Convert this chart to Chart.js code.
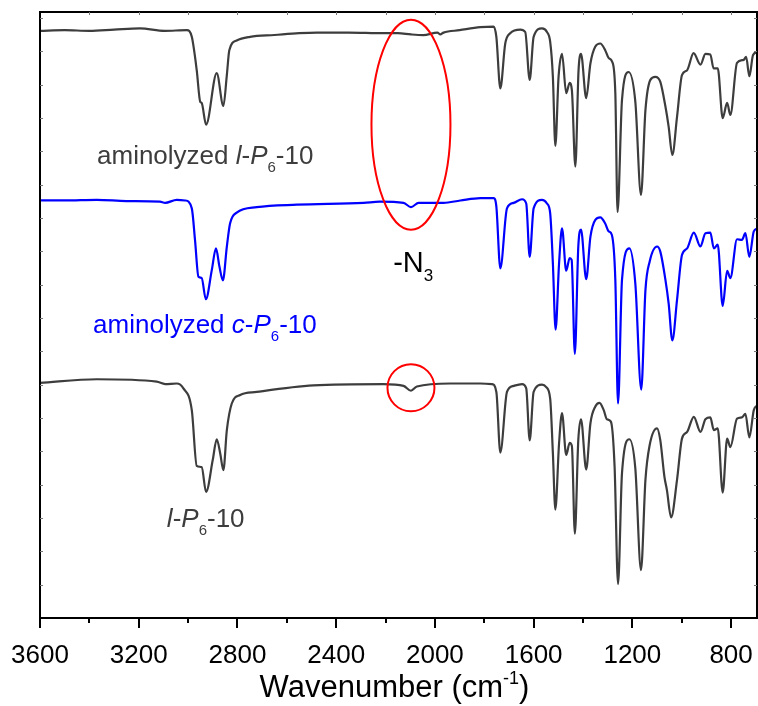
<!DOCTYPE html>
<html>
<head>
<meta charset="utf-8">
<script src="https://cdn.jsdelivr.net/npm/chart.js@4.4.1/dist/chart.umd.min.js"></script>
<style>
  html, body { margin: 0; padding: 0; background: #fff; }
  #wrap { width: 758px; height: 706px; }
</style>
</head>
<body>
<div id="wrap"><canvas id="chart" width="758" height="706"></canvas></div>
<script>
// x axis (wavenumber, reversed)
const xMax = 3600
const xMin = 695
const xTicks = [3600, 3200, 2800, 2400, 2000, 1600, 1200, 800]
const xMinorTicks = [3400, 3000, 2600, 2200, 1800, 1400, 1000]

// aminolyzed l-P6-10 (top, gray)
const topWn = [3600, 3500, 3400, 3300, 3195, 3095, 3005, 2985, 2965, 2951, 2945, 2927, 2884, 2857, 2843, 2833, 2803, 2749, 2650, 2550, 2478, 2350, 2209, 2150, 2097, 2047, 1990, 1978, 1965, 1900, 1816, 1762,
  1751, 1735, 1715, 1695, 1654, 1634, 1616, 1600, 1566, 1546, 1533, 1522, 1512, 1499, 1485, 1468, 1454, 1445, 1431, 1418, 1408, 1387, 1370, 1350, 1330, 1310, 1296, 1282, 1269, 1260, 1242, 1215, 1188, 1165, 1147, 1127, 1107, 1087, 1066, 1053, 1038, 1019, 999, 978, 952, 924, 904, 884, 871, 854, 834, 816, 803, 776, 749, 739, 726, 711, 693]
const topT = [96.9, 97.0, 96.9, 97.1, 97.3, 96.9, 97.0, 95.9, 90.4, 85.2, 85.0, 81.4, 89.9, 84.5, 89.6, 93.7, 95.3, 95.9, 96.2, 96.5, 96.6, 96.6, 96.5, 96.5, 96.3, 96.2, 96.6, 96.3, 96.6, 97.0, 97.5, 97.6,
  95.9, 87.4, 94.8, 96.5, 97.1, 96.7, 88.8, 95.9, 97.3, 96.7, 95.1, 89.3, 77.9, 89.3, 93.1, 86.6, 88.3, 87.1, 74.5, 90.4, 93.1, 85.8, 91.5, 94.3, 94.8, 93.7, 92.4, 91.8, 86.6, 67.0, 85.5, 90.1, 85.2, 69.8, 83.8, 88.8, 89.3, 88.5, 84.4, 81.1, 76.4, 82.7, 89.6, 90.4, 93.2, 91.3, 93.1, 93.0, 90.7, 90.7, 82.5, 85.0, 83.0, 91.6, 92.1, 92.6, 89.4, 92.9, 93.4]

// aminolyzed c-P6-10 (middle, blue)
const midWn = [3600, 3500, 3370, 3250, 3114, 3093, 3046, 3012, 2985, 2972, 2958, 2945, 2928, 2904, 2887, 2873, 2859, 2843, 2830, 2803, 2722, 2559, 2289, 2224, 2127, 2097, 2066, 1965, 1897, 1816, 1762,
  1751, 1735, 1708, 1681, 1647, 1630, 1616, 1600, 1566, 1546, 1533, 1522, 1511, 1497, 1485, 1468, 1454, 1446, 1433, 1419, 1408, 1387, 1370, 1350, 1330, 1310, 1296, 1283, 1269, 1258, 1242, 1212, 1188, 1164, 1147, 1130, 1100, 1087, 1066, 1053, 1038, 1019, 999, 978, 951, 924, 904, 884, 870, 854, 834, 816, 803, 776, 756, 742, 726, 708, 693]
const midT = [68.9, 68.9, 69.0, 68.8, 68.7, 68.5, 69.0, 68.9, 67.6, 62.4, 56.3, 56.1, 52.6, 57.4, 61.0, 58.0, 55.7, 61.3, 65.1, 66.9, 67.8, 68.2, 68.5, 68.7, 68.5, 67.8, 68.5, 68.5, 68.9, 69.3, 69.3,
  67.9, 57.7, 67.6, 68.5, 69.1, 68.4, 59.6, 67.6, 69.0, 68.4, 66.8, 58.5, 47.6, 58.5, 64.3, 57.3, 59.4, 59.1, 43.6, 61.3, 64.1, 55.9, 62.9, 65.7, 66.1, 65.1, 63.8, 63.2, 55.8, 35.4, 55.8, 61.0, 55.2, 37.7, 54.1, 58.8, 61.3, 60.5, 55.8, 51.9, 45.8, 52.5, 59.9, 61.0, 63.6, 61.3, 63.5, 63.6, 61.0, 61.6, 51.5, 57.3, 56.1, 62.5, 62.4, 63.5, 59.6, 63.8, 64.3]

// l-P6-10 (bottom, gray)
const botWn = [3600, 3370, 3127, 3093, 3046, 3019, 2985, 2965, 2945, 2927, 2900, 2884, 2870, 2857, 2843, 2823, 2789, 2722, 2492, 2208, 2127, 2097, 2073, 1938, 1816, 1769,
  1751, 1735, 1708, 1681, 1647, 1630, 1616, 1600, 1566, 1549, 1533, 1522, 1512, 1497, 1485, 1468, 1454, 1445, 1433, 1419, 1408, 1387, 1370, 1350, 1333, 1316, 1303, 1287, 1272, 1258, 1242, 1212, 1188, 1165, 1147, 1130, 1100, 1087, 1070, 1060, 1043, 1019, 999, 978, 951, 924, 904, 884, 870, 854, 834, 816, 803, 776, 756, 742, 726, 708, 693]
const botT = [38.8, 39.4, 39.0, 38.6, 38.7, 37.9, 34.3, 25.1, 24.9, 20.8, 26.1, 29.5, 27.2, 24.4, 31.0, 35.4, 36.8, 37.3, 38.4, 38.6, 38.3, 37.5, 38.2, 38.7, 38.7, 38.6,
  37.3, 27.3, 37.3, 38.3, 38.6, 37.9, 29.3, 37.3, 38.5, 38.1, 36.2, 27.2, 17.9, 28.8, 33.8, 26.9, 28.9, 28.4, 13.9, 29.4, 32.8, 24.5, 32.1, 34.9, 35.5, 34.3, 32.8, 32.4, 25.0, 5.6, 23.9, 29.5, 24.7, 7.9, 22.8, 28.5, 31.3, 29.4, 23.3, 21.1, 16.6, 22.8, 29.6, 30.7, 33.2, 30.7, 32.8, 33.1, 31.0, 31.3, 20.7, 29.6, 28.2, 32.9, 33.1, 33.7, 29.8, 34.3, 35.1]

const gray = '#3d3d3d'
const blue = '#0000ff'
const red = '#ff0000'
const font = '"Liberation Sans", Arial, sans-serif'

function series(wn, t) {
    return wn.map((x, i) => ({ x: x, y: t[i] }))
}

// draws text made of pieces, some italic, some subscript / superscript
function drawRich(ctx, parts, x, y, size, color, align) {
    const small = Math.round(size * 0.58)
    const fontFor = p => (p.i ? 'italic ' : '') + (p.sub || p.sup ? small : size) + 'px ' + font
    let width = 0
    for (const p of parts) {
        ctx.font = fontFor(p)
        width += ctx.measureText(p.t).width
    }
    let cx = align === 'center' ? x - width / 2 : x
    ctx.fillStyle = color
    ctx.textBaseline = 'alphabetic'
    ctx.textAlign = 'left'
    for (const p of parts) {
        ctx.font = fontFor(p)
        let dy = 0
        if (p.sub) dy = size * 0.3
        if (p.sup) dy = -size * 0.42
        ctx.fillText(p.t, cx, y + dy)
        cx += ctx.measureText(p.t).width
    }
}

const decorations = {
    id: 'decorations',
    afterDraw(chart) {
        const { ctx, chartArea: a, scales: { x, y } } = chart
        ctx.save()

        // frame
        ctx.strokeStyle = '#000'
        ctx.lineWidth = 2
        ctx.strokeRect(a.left, a.top, a.right - a.left, a.bottom - a.top)

        // bottom ticks (out), top and side ticks (in)
        for (const v of xTicks.concat(xMinorTicks)) {
            const px = Math.round(x.getPixelForValue(v))
            const len = xTicks.includes(v) ? 10 : 5
            ctx.beginPath()
            ctx.moveTo(px, a.bottom)
            ctx.lineTo(px, a.bottom + len)
            ctx.stroke()
        }
        ctx.lineWidth = 1
        ctx.strokeStyle = '#777'
        for (let v = 3400; v > xMin; v -= 200) {
            const px = Math.round(x.getPixelForValue(v)) + 0.5
            ctx.beginPath()
            ctx.moveTo(px, a.top)
            ctx.lineTo(px, a.top + 3)
            ctx.stroke()
        }
        for (let v = 5.5; v < 100; v += 5.5) {
            const py = Math.round(y.getPixelForValue(v)) + 0.5
            ctx.beginPath()
            ctx.moveTo(a.left, py)
            ctx.lineTo(a.left + 3, py)
            ctx.moveTo(a.right, py)
            ctx.lineTo(a.right - 3, py)
            ctx.stroke()
        }

        // red marks around the azide band
        ctx.strokeStyle = red
        ctx.lineWidth = 2
        ctx.beginPath()
        ctx.ellipse(x.getPixelForValue(2097), y.getPixelForValue(81.4), 39.5, 105, 0, 0, Math.PI * 2)
        ctx.stroke()
        ctx.beginPath()
        ctx.arc(x.getPixelForValue(2097), y.getPixelForValue(38.0), 23.5, 0, Math.PI * 2)
        ctx.stroke()

        // labels
        drawRich(ctx, [{ t: 'aminolyzed ' }, { t: 'l', i: true }, { t: '-' }, { t: 'P', i: true }, { t: '6', sub: true }, { t: '-10' }],
            x.getPixelForValue(3369), y.getPixelForValue(74.9), 26, gray)
        drawRich(ctx, [{ t: 'aminolyzed ' }, { t: 'c', i: true }, { t: '-' }, { t: 'P', i: true }, { t: '6', sub: true }, { t: '-10' }],
            x.getPixelForValue(3385), y.getPixelForValue(47.0), 26, blue)
        drawRich(ctx, [{ t: 'l', i: true }, { t: '-' }, { t: 'P', i: true }, { t: '6', sub: true }, { t: '-10' }],
            x.getPixelForValue(3086), y.getPixelForValue(15.0), 26, gray)
        drawRich(ctx, [{ t: '-N' }, { t: '3', sub: true }],
            x.getPixelForValue(2169), y.getPixelForValue(57.1), 29, '#000')

        // axis title
        drawRich(ctx, [{ t: 'Wavenumber (cm' }, { t: '-1', sup: true }, { t: ')' }],
            (a.left + a.right) / 2 - 4, a.bottom + 79, 31, '#000', 'center')

        ctx.restore()
    }
}

const ctx = document.getElementById('chart')
new Chart(ctx, {
    type: 'line',
    data: {
        datasets: [
            { label: 'aminolyzed l-P6-10', data: series(topWn, topT), borderColor: gray },
            { label: 'aminolyzed c-P6-10', data: series(midWn, midT), borderColor: blue },
            { label: 'l-P6-10', data: series(botWn, botT), borderColor: gray }
        ]
    },
    options: {
        responsive: false,
        devicePixelRatio: 1,
        animation: false,
        layout: { padding: { left: 40, right: 1, top: 12, bottom: 0 } },
        elements: {
            point: { radius: 0 },
            line: { borderWidth: 2.2, cubicInterpolationMode: 'monotone', fill: false }
        },
        plugins: { legend: { display: false }, tooltip: { enabled: false } },
        scales: {
            x: {
                type: 'linear',
                reverse: true,
                min: xMin,
                max: xMax,
                grid: { display: false },
                border: { display: false },
                afterBuildTicks: scale => { scale.ticks = xTicks.map(v => ({ value: v })) },
                afterFit: scale => {
                    scale.height = 88
                    scale.paddingLeft = 0
                    scale.paddingRight = 0
                },
                ticks: {
                    autoSkip: false,
                    maxRotation: 0,
                    padding: 14,
                    color: '#000',
                    font: { family: font, size: 26 },
                    callback: v => String(v)
                }
            },
            y: {
                display: false,
                min: 0,
                max: 100
            }
        }
    },
    plugins: [decorations]
})
</script>
</body>
</html>
